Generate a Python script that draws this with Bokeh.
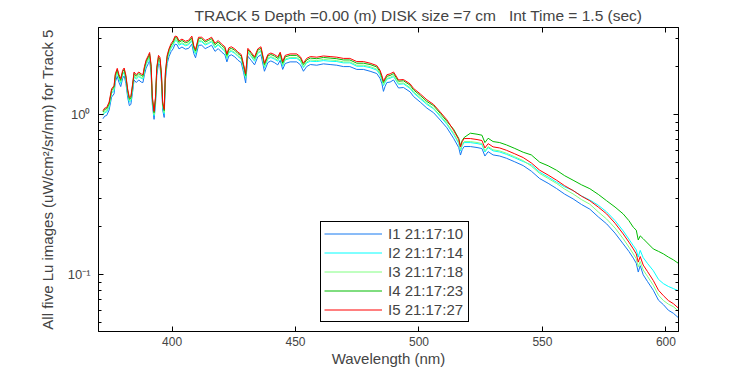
from bokeh.plotting import figure
from bokeh.models import (Range1d, FixedTicker, SingleIntervalTicker, LogAxis, LinearAxis,
                          Legend, LegendItem, CustomJSTickFormatter)
from bokeh.embed import file_html
from bokeh.resources import INLINE

wavelength = [
    372.0, 372.7, 373.5, 374.5, 375.5, 376.5, 377.0, 377.8, 378.5, 379.2,
    380.0, 380.6, 381.3, 382.0, 382.7, 383.3, 384.0, 384.6, 385.5, 386.5,
    387.5, 388.2, 388.8, 389.5, 390.4, 390.9, 391.5, 392.0, 392.7, 393.3,
    393.8, 394.5, 395.1, 395.7, 396.2, 396.8, 397.3, 398.0, 398.8, 399.6,
    400.4, 401.2, 402.0, 402.8, 404.0, 405.4, 406.7, 408.0, 408.8, 409.5,
    410.7, 412.0, 413.4, 414.7, 416.0, 417.4, 418.7, 420.0, 421.4, 422.2,
    423.0, 424.0, 425.4, 426.7, 428.0, 429.0, 429.8, 430.7, 432.0, 433.4,
    434.7, 436.0, 437.4, 438.8, 440.0, 441.4, 442.8, 443.8, 444.8, 445.8,
    447.8, 450.5, 452.0, 453.2, 454.5, 456.0, 458.6, 461.3, 464.0, 466.7,
    469.4, 472.0, 474.8, 477.5, 480.2, 482.9, 484.2, 485.0, 485.6, 486.3,
    487.0, 488.3, 489.7, 491.7, 493.7, 496.4, 497.8, 500.5, 503.2, 505.9,
    508.6, 511.3, 514.0, 516.1, 516.8, 517.5, 518.3, 520.8, 523.5, 525.5,
    526.7, 528.0, 530.0, 532.7, 535.4, 538.8, 542.2, 545.5, 548.9, 552.3,
    555.7, 559.0, 562.4, 565.8, 569.2, 572.6, 576.0, 579.4, 582.7, 585.0,
    586.8, 588.0, 588.8, 589.6, 590.8, 592.5, 594.9, 597.0, 599.0, 601.0,
    603.0, 605.0,
]

lu_i1 = [
    0.944, 0.980, 0.989, 1.07, 1.29, 1.35, 1.60, 1.74, 1.59, 1.50,
    1.69, 1.75, 1.57, 1.29, 1.14, 1.16, 1.38, 1.65, 1.59, 1.65,
    1.60, 1.59, 1.78, 1.96, 2.09, 2.18, 1.83, 1.16, 0.936, 1.16,
    1.76, 2.09, 2.03, 1.60, 1.07, 0.962, 1.65, 2.09, 2.32, 2.48,
    2.58, 2.76, 2.74, 2.58, 2.65, 2.57, 2.60, 2.76, 2.41, 2.27,
    2.72, 2.72, 2.59, 2.65, 2.72, 2.49, 2.59, 2.47, 2.37, 2.14,
    2.33, 2.37, 2.30, 2.19, 2.12, 1.83, 1.58, 2.32, 2.19, 2.05,
    2.30, 2.37, 1.87, 2.12, 2.17, 2.12, 2.05, 2.19, 1.92, 2.09,
    2.14, 2.14, 2.05, 1.87, 2.00, 2.06, 2.04, 2.08, 2.06, 2.04,
    2.00, 2.00, 1.92, 1.92, 1.87, 1.81, 1.69, 1.56, 1.40, 1.51,
    1.59, 1.60, 1.65, 1.47, 1.48, 1.39, 1.30, 1.20, 1.10, 1.03,
    0.927, 0.829, 0.713, 0.624, 0.560, 0.606, 0.633, 0.633, 0.624, 0.615,
    0.552, 0.588, 0.561, 0.552, 0.535, 0.508, 0.481, 0.444, 0.399, 0.373,
    0.346, 0.319, 0.298, 0.275, 0.257, 0.230, 0.208, 0.182, 0.156, 0.140,
    0.127, 0.118, 0.104, 0.114, 0.100, 0.091, 0.080, 0.0693, 0.065, 0.060,
    0.0575, 0.054,
]

lu_i2 = [
    0.993, 1.03, 1.04, 1.12, 1.36, 1.42, 1.69, 1.83, 1.67, 1.57,
    1.78, 1.84, 1.65, 1.36, 1.20, 1.22, 1.45, 1.73, 1.67, 1.73,
    1.69, 1.67, 1.87, 2.06, 2.20, 2.30, 1.92, 1.22, 0.984, 1.22,
    1.86, 2.20, 2.14, 1.69, 1.12, 1.01, 1.73, 2.20, 2.44, 2.60,
    2.72, 2.90, 2.89, 2.72, 2.78, 2.70, 2.74, 2.90, 2.53, 2.39,
    2.86, 2.86, 2.73, 2.78, 2.86, 2.62, 2.73, 2.60, 2.49, 2.25,
    2.45, 2.49, 2.42, 2.31, 2.23, 1.92, 1.69, 2.44, 2.31, 2.16,
    2.42, 2.49, 1.97, 2.23, 2.28, 2.23, 2.16, 2.31, 2.01, 2.20,
    2.25, 2.25, 2.16, 1.97, 2.11, 2.16, 2.15, 2.18, 2.16, 2.15,
    2.11, 2.11, 2.01, 2.01, 1.97, 1.90, 1.78, 1.64, 1.52, 1.59,
    1.67, 1.69, 1.73, 1.55, 1.56, 1.46, 1.37, 1.26, 1.16, 1.09,
    0.974, 0.871, 0.755, 0.661, 0.595, 0.642, 0.670, 0.670, 0.661, 0.651,
    0.585, 0.623, 0.595, 0.585, 0.566, 0.538, 0.510, 0.486, 0.437, 0.408,
    0.379, 0.354, 0.336, 0.311, 0.293, 0.272, 0.247, 0.218, 0.188, 0.167,
    0.152, 0.143, 0.129, 0.142, 0.128, 0.118, 0.106, 0.0935, 0.088, 0.0845,
    0.082, 0.0795,
]

lu_i3 = [
    1.01, 1.05, 1.06, 1.14, 1.38, 1.45, 1.71, 1.85, 1.69, 1.60,
    1.81, 1.86, 1.67, 1.38, 1.22, 1.24, 1.47, 1.76, 1.69, 1.76,
    1.71, 1.69, 1.90, 2.09, 2.23, 2.33, 1.95, 1.24, 1.00, 1.24,
    1.88, 2.23, 2.17, 1.71, 1.14, 1.03, 1.76, 2.23, 2.47, 2.64,
    2.76, 2.95, 2.93, 2.76, 2.82, 2.74, 2.78, 2.95, 2.57, 2.43,
    2.90, 2.90, 2.77, 2.82, 2.90, 2.66, 2.77, 2.63, 2.53, 2.28,
    2.49, 2.53, 2.45, 2.34, 2.26, 1.95, 1.71, 2.47, 2.34, 2.19,
    2.45, 2.53, 2.00, 2.26, 2.31, 2.26, 2.19, 2.34, 2.04, 2.23,
    2.28, 2.28, 2.19, 2.00, 2.14, 2.20, 2.18, 2.22, 2.20, 2.18,
    2.14, 2.14, 2.04, 2.04, 2.00, 1.93, 1.81, 1.66, 1.54, 1.62,
    1.69, 1.71, 1.76, 1.57, 1.58, 1.48, 1.39, 1.28, 1.18, 1.10,
    0.989, 0.884, 0.766, 0.671, 0.604, 0.651, 0.680, 0.680, 0.671, 0.661,
    0.594, 0.632, 0.604, 0.594, 0.575, 0.546, 0.517, 0.477, 0.429, 0.400,
    0.372, 0.343, 0.320, 0.295, 0.276, 0.247, 0.223, 0.196, 0.168, 0.149,
    0.135, 0.126, 0.112, 0.121, 0.107, 0.098, 0.086, 0.0745, 0.069, 0.0655,
    0.0632, 0.0594,
]

lu_i4 = [
    1.04, 1.08, 1.09, 1.17, 1.42, 1.49, 1.76, 1.91, 1.74, 1.64,
    1.86, 1.92, 1.72, 1.42, 1.25, 1.27, 1.52, 1.81, 1.74, 1.81,
    1.76, 1.74, 1.96, 2.15, 2.30, 2.40, 2.01, 1.27, 1.03, 1.27,
    1.94, 2.30, 2.23, 1.76, 1.17, 1.06, 1.81, 2.30, 2.55, 2.72,
    2.84, 3.03, 3.02, 2.84, 2.91, 2.82, 2.86, 3.03, 2.64, 2.50,
    2.99, 2.99, 2.85, 2.91, 2.99, 2.74, 2.85, 2.71, 2.60, 2.35,
    2.56, 2.60, 2.53, 2.41, 2.33, 2.01, 1.76, 2.55, 2.41, 2.25,
    2.53, 2.60, 2.06, 2.33, 2.38, 2.33, 2.25, 2.41, 2.10, 2.30,
    2.35, 2.35, 2.25, 2.06, 2.20, 2.26, 2.24, 2.28, 2.26, 2.24,
    2.20, 2.20, 2.10, 2.10, 2.06, 1.99, 1.86, 1.71, 1.59, 1.66,
    1.74, 1.76, 1.81, 1.62, 1.63, 1.53, 1.43, 1.32, 1.21, 1.14,
    1.02, 0.910, 0.812, 0.711, 0.639, 0.690, 0.721, 0.767, 0.756, 0.745,
    0.670, 0.713, 0.680, 0.670, 0.648, 0.616, 0.583, 0.561, 0.505, 0.480,
    0.450, 0.416, 0.390, 0.365, 0.345, 0.318, 0.290, 0.265, 0.240, 0.218,
    0.198, 0.190, 0.165, 0.175, 0.168, 0.158, 0.145, 0.140, 0.135, 0.129,
    0.124, 0.118,
]

lu_i5 = [
    1.06, 1.10, 1.11, 1.20, 1.45, 1.52, 1.80, 1.95, 1.78, 1.68,
    1.90, 1.96, 1.76, 1.45, 1.28, 1.30, 1.55, 1.85, 1.78, 1.85,
    1.80, 1.78, 2.00, 2.20, 2.35, 2.45, 2.05, 1.30, 1.05, 1.30,
    1.98, 2.35, 2.28, 1.80, 1.20, 1.08, 1.85, 2.35, 2.60, 2.78,
    2.90, 3.10, 3.08, 2.90, 2.97, 2.88, 2.92, 3.10, 2.70, 2.55,
    3.05, 3.05, 2.91, 2.97, 3.05, 2.80, 2.91, 2.77, 2.66, 2.40,
    2.62, 2.66, 2.58, 2.46, 2.38, 2.05, 1.80, 2.60, 2.46, 2.30,
    2.58, 2.66, 2.10, 2.38, 2.43, 2.38, 2.30, 2.46, 2.15, 2.35,
    2.40, 2.40, 2.30, 2.10, 2.25, 2.31, 2.29, 2.33, 2.31, 2.29,
    2.25, 2.25, 2.15, 2.15, 2.10, 2.03, 1.90, 1.75, 1.62, 1.70,
    1.78, 1.80, 1.85, 1.65, 1.66, 1.56, 1.46, 1.35, 1.24, 1.16,
    1.04, 0.93, 0.80, 0.70, 0.63, 0.68, 0.71, 0.71, 0.70, 0.69,
    0.62, 0.66, 0.63, 0.62, 0.60, 0.57, 0.54, 0.50, 0.45, 0.42,
    0.39, 0.36, 0.336, 0.31, 0.29, 0.265, 0.24, 0.21, 0.18, 0.16,
    0.145, 0.135, 0.12, 0.13, 0.115, 0.105, 0.092, 0.080, 0.074, 0.069,
    0.066, 0.062,
]

series_labels = ["I1 21:17:10", "I2 21:17:14", "I3 21:17:18", "I4 21:17:23", "I5 21:17:27"]
series_colors = ["#1478f0", "#00ffff", "#80ff80", "#00bb00", "#ff0000"]
series_values = [lu_i1, lu_i2, lu_i3, lu_i4, lu_i5]

x_ticks_interval = 50
y_major_ticks = [0.1, 1.0]
y_minor_ticks = [0.05, 0.06, 0.07, 0.08, 0.09, 0.2, 0.3, 0.4, 0.5, 0.6, 0.7, 0.8, 0.9, 2.0, 3.0]
y_tick_labels = {0.1: "10\u207b\u00b9", 1.0: "10\u2070"}

title_text = "TRACK 5 Depth =0.00 (m) DISK size =7 cm \u00a0 Int Time = 1.5 (sec)"
x_label = "Wavelength (nm)"
y_label = "All five Lu images (uW/cm\u00b2/sr/nm) for Track 5"

FONT = "Liberation Sans"

p = figure(width=750, height=375, output_backend="svg", toolbar_location=None,
           x_range=Range1d(370.2, 605.1), y_range=Range1d(0.0442, 3.51),
           y_axis_type="log",
           min_border_left=98, min_border_right=72, min_border_top=27, min_border_bottom=44)

p.title.text = title_text
p.title.align = "left"
p.title.offset = 96
p.title.text_font = FONT
p.title.text_font_size = "15.5px"
p.title.text_font_style = "normal"
p.title.standoff = 8

p.outline_line_color = "black"
p.outline_line_alpha = 1
p.outline_line_width = 1
p.xgrid.visible = False
p.ygrid.visible = False
p.background_fill_color = "white"
p.border_fill_color = "white"

xticker = SingleIntervalTicker(interval=x_ticks_interval, num_minor_ticks=0)
yticker = FixedTicker(ticks=y_major_ticks, minor_ticks=y_minor_ticks)

xa = p.xaxis[0]
xa.ticker = xticker
xa.axis_label = x_label
xa.axis_label_text_font = FONT
xa.axis_label_text_font_size = "15px"
xa.axis_label_text_font_style = "normal"
xa.axis_label_standoff = 1
xa.major_label_text_font = FONT
xa.major_label_text_font_size = "12px"
xa.major_label_standoff = 5
xa.major_tick_in = 5
xa.major_tick_out = 0
xa.minor_tick_line_color = None
xa.axis_line_color = "black"

ya = p.yaxis[0]
ya.ticker = yticker
ya.major_label_overrides = y_tick_labels
ya.axis_label = y_label
ya.axis_label_text_font = FONT
ya.axis_label_text_font_size = "15px"
ya.axis_label_text_font_style = "normal"
ya.axis_label_standoff = 9
ya.major_label_text_font = FONT
ya.major_label_text_font_size = "13px"
ya.major_label_standoff = 8
ya.major_tick_in = 5
ya.major_tick_out = 0
ya.minor_tick_in = 3
ya.minor_tick_out = 0
ya.axis_line_color = "black"

blank = CustomJSTickFormatter(code="return '';")
ra = LogAxis(ticker=yticker, formatter=blank, major_tick_in=5, major_tick_out=0,
             minor_tick_in=3, minor_tick_out=0, major_label_standoff=0,
             major_label_text_font_size="0px", axis_line_color="black")
p.add_layout(ra, "right")
ta = LinearAxis(ticker=xticker, formatter=blank, major_tick_in=5, major_tick_out=0,
                minor_tick_line_color=None, major_label_standoff=0,
                major_label_text_font_size="0px", axis_line_color="black")
p.add_layout(ta, "above")

items = []
for lab, col, vals in zip(series_labels, series_colors, series_values):
    r = p.line(wavelength, vals, line_color=col, line_width=1)
    items.append(LegendItem(label=lab, renderers=[r]))

legend = Legend(items=items, location=(222, 9))
legend.label_text_font = FONT
legend.label_text_font_size = "15px"
legend.glyph_width = 58
legend.glyph_height = 17
legend.label_height = 17
legend.label_width = 77
legend.label_standoff = 6
legend.spacing = 2
legend.padding = 3
legend.margin = 0
legend.border_line_color = "black"
legend.border_line_width = 1
legend.border_line_alpha = 1
legend.background_fill_color = "white"
legend.background_fill_alpha = 1
p.add_layout(legend)

open("out.html", "w").write(file_html(p, INLINE))
